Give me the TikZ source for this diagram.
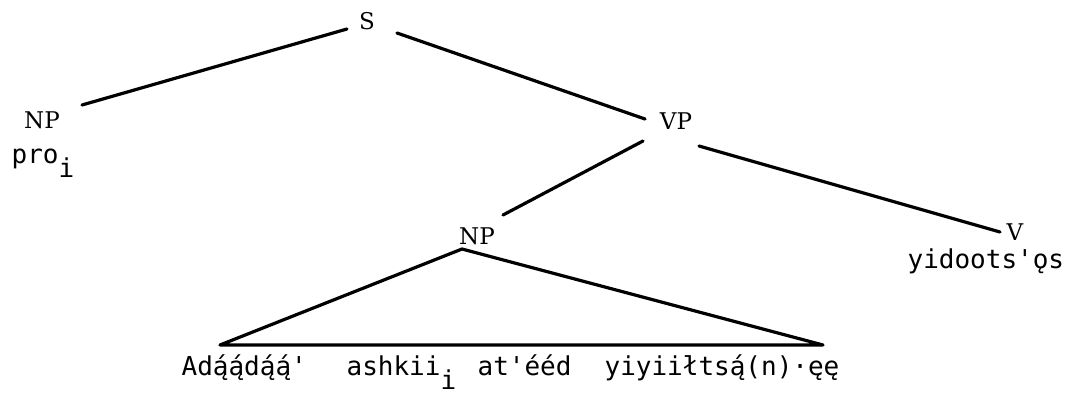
\documentclass[tikz,border=0pt]{standalone}
\usepackage{fontspec}
\newfontfamily\catfont{DejaVu Serif}
\newfontfamily\lexfont{DejaVu Sans Mono}[Ligatures=TeXOff]
\newcommand{\lowidx}[1]{\raisebox{-14pt}{#1}}

\begin{document}
\begin{tikzpicture}[x=1pt, y=-1pt, line width=3.2pt, line cap=round, line join=round,
  cat/.style={font=\catfont\fontsize{23}{27}\selectfont, inner sep=0pt},
  lex/.style={font=\lexfont\fontsize{26}{30}\selectfont, inner sep=0pt, anchor=base west}]

% Frame
\useasboundingbox (0,0) rectangle (1079,394);

% Categories
\node[cat] (s) at (367,21) {S};
\node[cat] (np1) at (42,120) {NP};
\node[cat] (vp) at (676,121) {VP};
\node[cat] (np2) at (477,236) {NP};
\node[cat] (v) at (1015,232) {V};

% Lexical items
\node[lex] (pro) at (10,163) {pro\lowidx{i}};
\node[lex] (verb) at (906,268) {yidoots'ǫs};
\node[lex] (w1) at (180,375) {Adą́ą́dą́ą́'};
\node[lex] (w2) at (345,375) {ashkii\lowidx{i}};
\node[lex] (w3) at (476,375) {at'ééd};
\node[lex] (w4) at (603,375) {yiyiiłtsą́(n)·ęę};

% Branches
\draw ([xshift=-20pt,yshift=-8pt]s.center) -- ([xshift=40pt,yshift=15pt]np1.center);
\draw ([xshift=30pt,yshift=-12pt]s.center) -- ([xshift=-31pt,yshift=2pt]vp.center);
\draw ([xshift=-33pt,yshift=-20pt]vp.center) -- ([xshift=26pt,yshift=21pt]np2.center);
\draw ([xshift=23pt,yshift=-25pt]vp.center) -- ([xshift=-15pt]v.center);

% Triangle over the clause
\coordinate (tl) at (220,345);
\coordinate (tr) at (823,345);
\draw ([xshift=-15pt,yshift=-13pt]np2.center) -- (tl) -- (tr) -- cycle;

\end{tikzpicture}
\end{document}
